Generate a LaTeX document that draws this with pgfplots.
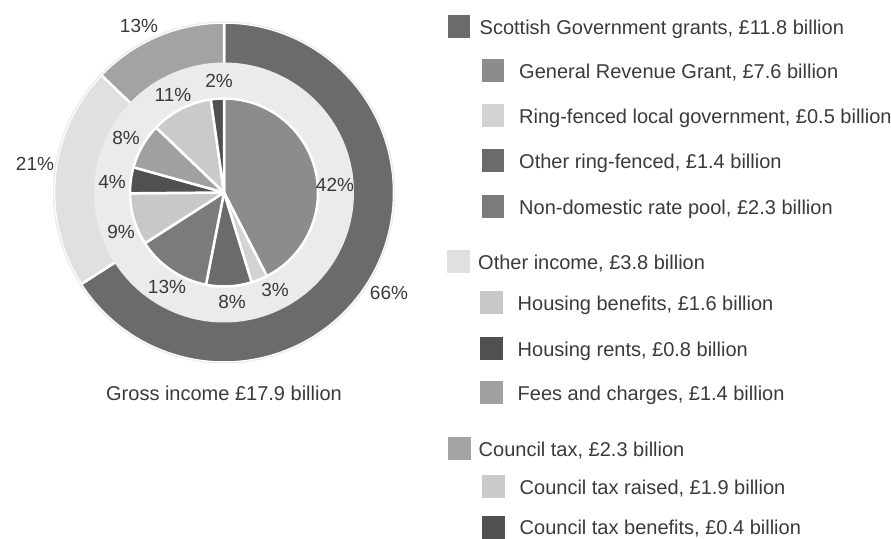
\documentclass[border=0pt]{standalone}
\usepackage{pgfplots}
\pgfplotsset{compat=1.18}
\usepackage{pgfplotstable}
\usepackage{fontspec}
\setmainfont{Liberation Sans}

\definecolor{cSG}{HTML}{6B6B6B}
\definecolor{cOI}{HTML}{E0E0E0}
\definecolor{cCT}{HTML}{A3A3A3}
\definecolor{cGRG}{HTML}{8C8C8C}
\definecolor{cRFLG}{HTML}{D3D3D3}
\definecolor{cORF}{HTML}{6B6B6B}
\definecolor{cNDR}{HTML}{7B7B7B}
\definecolor{cHB}{HTML}{C8C8C8}
\definecolor{cHR}{HTML}{505050}
\definecolor{cFC}{HTML}{A0A0A0}
\definecolor{cCTR}{HTML}{CACACA}
\definecolor{cCTB}{HTML}{505050}
\definecolor{ringbg}{HTML}{EBEBEB}
\definecolor{txt}{HTML}{3A3A3A}

% outer ring: groups (GBP billion)
\pgfplotstableread{
val col
11.8 cSG
3.8 cOI
2.3 cCT
}\outerdata

% inner pie: components (GBP billion)
\pgfplotstableread{
val col
7.6 cGRG
0.5 cRFLG
1.4 cORF
2.3 cNDR
1.6 cHB
0.8 cHR
1.4 cFC
1.9 cCTR
0.4 cCTB
}\innerdata

% percentage labels (position in picture units)
\pgfplotstableread{
x y lab
389 246 66
35 375 21
139 513 13
335 354 42
275 249 3
232 237 8
167 252 13
121 307 9
112 357 4
126 401 8
173 444 11
219 458 2
}\pctlabels

\begin{document}
\begin{tikzpicture}
\path[use as bounding box] (0,0) rectangle (891bp,539bp);
\begin{axis}[
  at={(0,0)}, anchor=south west,
  x=1bp, y=1bp, xmin=0, xmax=891, ymin=0, ymax=539,
  hide axis, clip=false, scale only axis,
]
% ---- outer ring (sectors, later covered in the middle)
\def\curang{90}
\pgfplotsforeachungrouped \i in {0,...,2}{%
  \pgfplotstablegetelem{\i}{val}\of\outerdata\let\sliceval\pgfplotsretval
  \pgfplotstablegetelem{\i}{col}\of\outerdata\let\slicecol\pgfplotsretval
  \pgfmathsetmacro\nextang{\curang-360*\sliceval/17.9}%
  \edef\temp{\noexpand\fill[fill=\slicecol, draw=white, line width=2.5bp, line join=round] (axis cs:224,346.5) -- ++(\curang:170bp) arc[start angle=\curang, end angle=\nextang, radius=170bp] -- cycle;}%
  \temp
  \let\curang\nextang
}
\draw[color=ringbg, line width=1.2bp] (axis cs:224,346.5) circle[radius=170.5bp];
\fill[ringbg] (axis cs:224,346.5) circle[radius=130bp];
% ---- inner pie
\def\curang{90}
\pgfplotsforeachungrouped \i in {0,...,8}{%
  \pgfplotstablegetelem{\i}{val}\of\innerdata\let\sliceval\pgfplotsretval
  \pgfplotstablegetelem{\i}{col}\of\innerdata\let\slicecol\pgfplotsretval
  \pgfmathsetmacro\nextang{\curang-360*\sliceval/17.9}%
  \edef\temp{\noexpand\fill[fill=\slicecol, draw=white, line width=2.5bp, line join=round] (axis cs:224,346.5) -- ++(\curang:94bp) arc[start angle=\curang, end angle=\nextang, radius=94bp] -- cycle;}%
  \temp
  \let\curang\nextang
}
% ---- percentage labels
\addplot[draw=none, mark=none, nodes near coords={\pgfplotspointmeta\%},
  point meta=explicit symbolic,
  every node near coord/.style={anchor=center, font=\fontsize{19bp}{21bp}\selectfont, text=txt}]
  table[x=x, y=y, meta=lab] {\pctlabels};

% ---- caption
\node[anchor=base, font=\fontsize{20bp}{24bp}\selectfont, text=txt] at (axis cs:224,138.3) {Gross income £17.9 billion};

% ---- legend
\tikzset{sw/.style={minimum size=22.7bp, inner sep=0pt, anchor=center},
         lt/.style={anchor=base west, inner sep=0pt, font=\fontsize{20bp}{24bp}\selectfont, text=txt}}
\node[sw, fill=cSG]   at (axis cs:459,512.7) {}; \node[lt] at (axis cs:479.5,504.2) {Scottish Government grants, £11.8 billion};
\node[sw, fill=cGRG]  at (axis cs:493,468.8) {}; \node[lt] at (axis cs:519,460.3) {General Revenue Grant, £7.6 billion};
\node[sw, fill=cRFLG] at (axis cs:493,423.7) {}; \node[lt] at (axis cs:519,415.2) {Ring-fenced local government, £0.5 billion};
\node[sw, fill=cORF]  at (axis cs:493,378.7) {}; \node[lt] at (axis cs:519,370.2) {Other ring-fenced, £1.4 billion};
\node[sw, fill=cNDR]  at (axis cs:493,332.7) {}; \node[lt] at (axis cs:519,324.2) {Non-domestic rate pool, £2.3 billion};
\node[sw, fill=cOI]   at (axis cs:458.7,277.7) {}; \node[lt] at (axis cs:478,269.2) {Other income, £3.8 billion};
\node[sw, fill=cHB]   at (axis cs:491.5,236.7) {}; \node[lt] at (axis cs:517.5,228.2) {Housing benefits, £1.6 billion};
\node[sw, fill=cHR]   at (axis cs:491.5,190.7) {}; \node[lt] at (axis cs:517.5,182.2) {Housing rents, £0.8 billion};
\node[sw, fill=cFC]   at (axis cs:491.5,146.7) {}; \node[lt] at (axis cs:517.5,138.2) {Fees and charges, £1.4 billion};
\node[sw, fill=cCT]   at (axis cs:459.7,90.7) {};  \node[lt] at (axis cs:478.5,82.2) {Council tax, £2.3 billion};
\node[sw, fill=cCTR]  at (axis cs:493.5,52.7) {};  \node[lt] at (axis cs:519.5,44.2) {Council tax raised, £1.9 billion};
\node[sw, fill=cCTB]  at (axis cs:493.5,11.5) {};  \node[lt] at (axis cs:519.5,4.5) {Council tax benefits, £0.4 billion};
\end{axis}
\end{tikzpicture}
\end{document}
